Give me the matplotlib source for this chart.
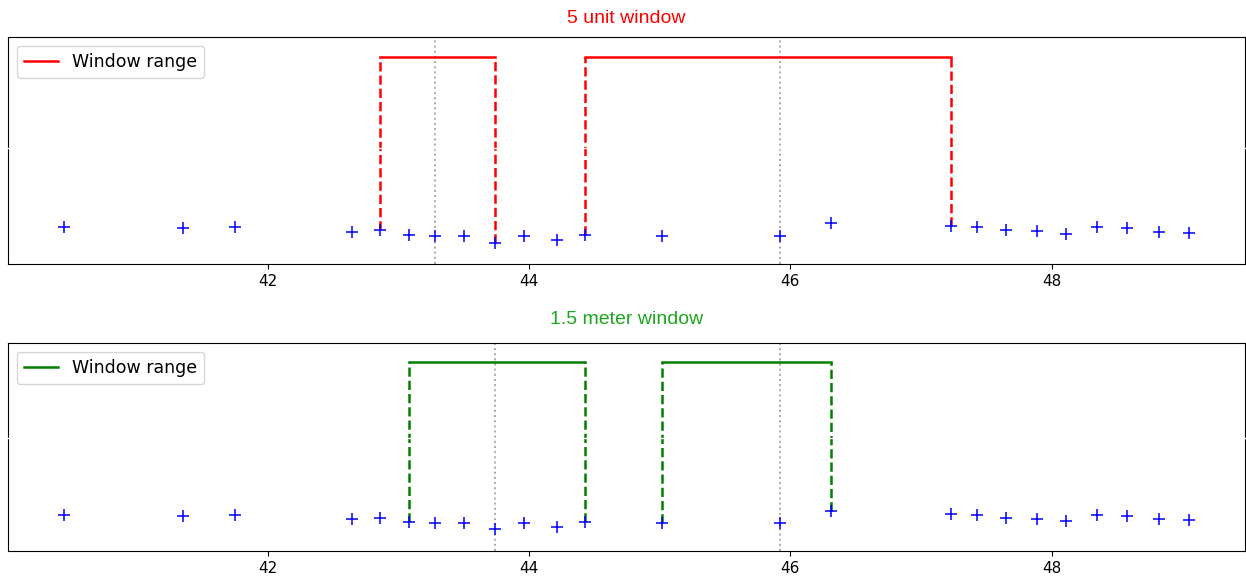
import matplotlib
matplotlib.use('Agg')
import matplotlib.pyplot as plt

# Station positions and measured values
x_pos = [40.44, 41.35, 41.75, 42.64, 42.86, 43.08, 43.28, 43.50, 43.74, 43.96,
         44.21, 44.43, 45.02, 45.92, 46.31, 47.23, 47.43, 47.65, 47.89, 48.11,
         48.35, 48.58, 48.82, 49.05]
y_val = [-8.0, -8.1, -8.0, -8.5, -8.3, -8.8, -8.9, -8.9, -9.6, -8.9,
         -9.3, -8.8, -8.9, -8.9, -7.6, -7.9, -8.0, -8.3, -8.4, -8.7,
         -8.0, -8.1, -8.5, -8.6]

# window (start index, end index) and centre index
unit_windows = [(4, 8), (11, 15)]
unit_centres = [6, 13]
meter_windows = [(5, 11), (12, 14)]
meter_centres = [8, 13]

window_top = 9.0

panels = [
    dict(title='5 unit window', title_color='red', color='red',
         windows=unit_windows, centres=unit_centres,
         ylim=(-11.7, 11.0), gap=-0.05, pad=10),
    dict(title='1.5 meter window', title_color='#1ea51e', color='green',
         windows=meter_windows, centres=meter_centres,
         ylim=(-12.0, 11.1), gap=0.55, pad=14),
]

fig = plt.figure(figsize=(12.46, 5.83), dpi=100)
boxes = [[0.0064, 0.5472, 0.9928, 0.3893], [0.0064, 0.0549, 0.9928, 0.3568]]

for box, p in zip(boxes, panels):
    ax = fig.add_axes(box)
    for c in p['centres']:
        ax.axvline(x_pos[c], color='darkgray', linestyle=':', lw=1.4, zorder=1)
    for i, (a, b) in enumerate(p['windows']):
        xa, xb = x_pos[a], x_pos[b]
        ax.plot([xa, xa], [y_val[a], window_top], color=p['color'], linestyle='--', lw=1.8)
        ax.plot([xb, xb], [y_val[b], window_top], color=p['color'], linestyle='--', lw=1.8)
        ax.plot([xa, xb], [window_top, window_top], color=p['color'], lw=1.8,
                label='Window range' if i == 0 else None)
    ax.plot(x_pos, y_val, '+', color='blue', markersize=8, mew=1.1, zorder=3)
    ax.axhline(p['gap'], color='white', lw=1.0, zorder=10, clip_on=False,
               xmin=-0.003, xmax=1.0)
    ax.set_xlim(40.01, 49.48)
    ax.set_ylim(*p['ylim'])
    ax.set_xticks([42, 44, 46, 48])
    ax.set_yticks([])
    ax.tick_params(axis='x', labelsize=11)
    ax.set_title(p['title'], color=p['title_color'], fontsize=14,
                 family='Liberation Sans', pad=p['pad'])
    ax.legend(loc='upper left', fontsize=12.5)

fig.savefig('out.png', dpi=100)
